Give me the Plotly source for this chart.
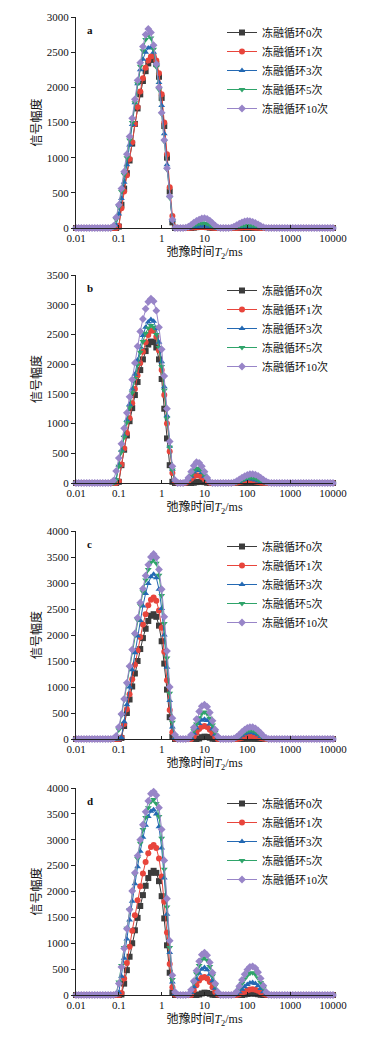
import plotly.graph_objects as go

# T2 relaxation-time grid (ms), 16 points per decade from 0.01 to 10000
T2 = [0.01, 0.0115, 0.0133, 0.0154, 0.0178, 0.0205, 0.0237, 0.0274, 0.0316, 0.0365, 0.0422, 0.0487, 0.0562, 0.0649, 0.075, 0.0866,
      0.1, 0.115, 0.133, 0.154, 0.178, 0.205, 0.237, 0.274, 0.316, 0.365, 0.422, 0.487, 0.562, 0.649, 0.75, 0.866,
      1, 1.15, 1.33, 1.54, 1.78, 2.05, 2.37, 2.74, 3.16, 3.65, 4.22, 4.87, 5.62, 6.49, 7.5, 8.66,
      10, 11.5, 13.3, 15.4, 17.8, 20.5, 23.7, 27.4, 31.6, 36.5, 42.2, 48.7, 56.2, 64.9, 75, 86.6,
      100, 115, 133, 154, 178, 205, 237, 274, 316, 365, 422, 487, 562, 649, 750, 866,
      1000, 1150, 1330, 1540, 1780, 2050, 2370, 2740, 3160, 3650, 4220, 4870, 5620, 6490, 7500, 8660,
      10000]

SEG_START = 13  # values below are signal amplitudes for T2[13] .. T2[73]; zero elsewhere

SERIES_NAMES = ["冻融循环0次", "冻融循环1次", "冻融循环3次", "冻融循环5次", "冻融循环10次"]
PANEL_LABELS = ["a", "b", "c", "d"]
Y_MAX = [3000, 3500, 4000, 4000]
X_TICKS = [0.01, 0.1, 1, 10, 100, 1000, 10000]
X_TICK_TEXT = ["0.01", "0.1", "1", "10", "100", "1000", "10000"]

# ---- panel a ----
A_0 = [0, 0, 0, 20, 330, 560, 780, 960, 1200, 1480, 1700, 1900, 2090, 2230, 2340, 2390, 2400, 2330, 2150, 1850, 1450, 1000, 520, 80, 0, 0,
       0, 0, 0, 0, 0, 5, 12, 18, 20, 18, 12, 5, 0, 0, 0, 0,
       0, 0, 0, 0, 0, 0, 0, 3, 5, 5, 4, 2, 0, 0, 0, 0, 0, 0, 0]
A_1 = [0, 0, 0, 30, 280, 520, 750, 980, 1220, 1480, 1720, 1940, 2130, 2280, 2380, 2440, 2450, 2380, 2200, 1900, 1500, 1050, 580, 170, 10, 0,
       0, 0, 0, 0, 3, 7, 11, 14, 15, 14, 11, 7, 3, 0, 0, 0,
       0, 0, 0, 0, 0, 0, 3, 6, 9, 10, 9, 7, 4, 2, 0, 0, 0, 0, 0]
A_3 = [0, 0, 40, 200, 420, 650, 900, 1180, 1470, 1780, 2050, 2250, 2400, 2500, 2560, 2570, 2500, 2330, 2070, 1740, 1340, 900, 460, 110, 0, 0,
       0, 0, 0, 0, 5, 12, 20, 27, 30, 30, 25, 18, 10, 4, 0, 0,
       0, 0, 0, 0, 0, 3, 6, 10, 13, 15, 15, 13, 10, 6, 3, 0, 0, 0, 0]
A_5 = [0, 10, 120, 300, 520, 760, 1000, 1250, 1500, 1780, 2050, 2300, 2520, 2680, 2750, 2700, 2540, 2290, 1970, 1620, 1230, 830, 430, 110, 0, 0,
       0, 0, 0, 10, 25, 40, 55, 65, 70, 68, 60, 45, 28, 12, 3, 0,
       0, 0, 0, 3, 8, 15, 24, 32, 38, 40, 39, 34, 27, 19, 11, 5, 0, 0, 0]
A_10 = [0, 30, 150, 330, 560, 800, 1050, 1300, 1560, 1830, 2100, 2350, 2580, 2750, 2830, 2780, 2600, 2330, 2000, 1640, 1250, 850, 450, 120, 0, 0,
        0, 0, 5, 20, 45, 75, 100, 120, 135, 140, 130, 105, 70, 35, 8, 0,
        0, 0, 0, 5, 20, 40, 62, 80, 95, 100, 98, 88, 72, 52, 30, 12, 3, 0, 0]

# ---- panel b ----
B_0 = [0, 0, 0, 20, 300, 560, 800, 1040, 1260, 1480, 1700, 1900, 2080, 2220, 2330, 2380, 2370, 2280, 2080, 1750, 1250, 750, 300, 20, 0, 0,
       0, 0, 0, 0, 0, 5, 15, 20, 20, 15, 5, 0, 0, 0, 0, 0,
       0, 0, 0, 0, 0, 0, 0, 0, 0, 3, 5, 3, 0, 0, 0, 0, 0, 0, 0]
B_1 = [0, 0, 0, 30, 310, 580, 840, 1090, 1340, 1580, 1810, 2020, 2210, 2370, 2490, 2560, 2560, 2460, 2230, 1900, 1480, 1000, 530, 170, 20, 0,
       0, 0, 5, 30, 70, 110, 130, 125, 100, 65, 30, 5, 0, 0, 0, 0,
       0, 0, 0, 0, 0, 5, 15, 25, 35, 40, 38, 32, 25, 15, 8, 3, 0, 0, 0]
B_3 = [0, 0, 60, 300, 550, 800, 1060, 1320, 1580, 1830, 2070, 2290, 2480, 2620, 2710, 2750, 2720, 2600, 2370, 2040, 1620, 1130, 620, 230, 40, 0,
       0, 0, 10, 55, 115, 185, 220, 210, 175, 115, 55, 10, 0, 0, 0, 0,
       0, 0, 0, 0, 0, 10, 25, 45, 60, 70, 70, 62, 50, 35, 20, 8, 0, 0, 0]
B_5 = [0, 0, 50, 280, 520, 770, 1020, 1270, 1520, 1760, 1990, 2200, 2380, 2520, 2610, 2650, 2620, 2500, 2280, 1960, 1560, 1090, 600, 220, 40, 0,
       0, 0, 10, 60, 130, 210, 250, 240, 200, 130, 60, 10, 0, 0, 0, 0,
       0, 0, 0, 0, 0, 10, 30, 50, 70, 85, 90, 88, 78, 60, 40, 20, 5, 0, 0]
B_10 = [0, 40, 200, 420, 660, 920, 1180, 1450, 1740, 2020, 2300, 2550, 2760, 2930, 3050, 3100, 3060, 2900, 2620, 2250, 1800, 1250, 700, 280, 50, 0,
        0, 0, 20, 90, 190, 290, 350, 340, 280, 190, 90, 20, 0, 0, 0, 0,
        0, 0, 0, 0, 10, 30, 60, 90, 115, 135, 148, 150, 140, 120, 90, 55, 25, 5, 0]

# ---- panel c ----
C_0 = [0, 0, 0, 0, 20, 250, 500, 760, 1010, 1260, 1500, 1730, 1940, 2120, 2270, 2370, 2400, 2350, 2180, 1880, 1450, 950, 420, 40, 0, 0,
       0, 0, 0, 0, 0, 0, 0, 10, 35, 45, 40, 25, 5, 0, 0, 0,
       0, 0, 0, 0, 0, 0, 0, 0, 3, 5, 6, 5, 3, 0, 0, 0, 0, 0, 0]
C_1 = [0, 0, 0, 0, 30, 290, 570, 860, 1150, 1430, 1700, 1960, 2200, 2400, 2570, 2680, 2720, 2660, 2470, 2140, 1680, 1130, 560, 130, 10, 0,
       0, 0, 0, 0, 0, 50, 120, 190, 235, 250, 230, 180, 110, 40, 0, 0,
       0, 0, 0, 0, 0, 0, 10, 25, 40, 52, 60, 58, 48, 35, 20, 8, 0, 0, 0]
C_3 = [0, 0, 0, 0, 30, 330, 660, 1000, 1330, 1660, 1980, 2280, 2560, 2800, 2990, 3120, 3170, 3100, 2880, 2510, 2000, 1380, 740, 230, 30, 0,
       0, 0, 0, 0, 30, 110, 210, 300, 360, 380, 355, 290, 190, 90, 20, 0,
       0, 0, 0, 0, 0, 15, 40, 70, 100, 120, 130, 125, 105, 80, 50, 20, 3, 0, 0]
C_5 = [0, 0, 20, 180, 450, 750, 1060, 1380, 1700, 2000, 2290, 2570, 2830, 3060, 3260, 3400, 3450, 3380, 3150, 2760, 2220, 1560, 880, 320, 50, 0,
       0, 0, 0, 0, 50, 160, 290, 410, 490, 520, 490, 400, 270, 130, 30, 0,
       0, 0, 0, 0, 0, 25, 60, 100, 135, 160, 170, 165, 145, 110, 70, 30, 5, 0, 0]
C_10 = [0, 10, 60, 230, 480, 770, 1080, 1400, 1720, 2030, 2330, 2620, 2890, 3140, 3350, 3500, 3560, 3490, 3260, 2880, 2350, 1690, 1000, 400, 80, 0,
        0, 0, 0, 10, 80, 220, 380, 530, 630, 660, 620, 510, 350, 180, 50, 0,
        0, 0, 0, 0, 10, 40, 85, 135, 180, 215, 230, 228, 205, 165, 115, 60, 20, 0, 0]

# ---- panel d ----
D_0 = [0, 0, 0, 0, 10, 220, 480, 740, 1000, 1250, 1490, 1720, 1930, 2110, 2260, 2360, 2400, 2360, 2200, 1910, 1480, 960, 430, 50, 0, 0,
       0, 0, 0, 0, 0, 0, 0, 10, 30, 45, 40, 25, 5, 0, 0, 0,
       0, 0, 0, 0, 0, 0, 0, 0, 10, 20, 30, 30, 25, 15, 5, 0, 0, 0, 0]
D_1 = [0, 0, 0, 0, 40, 320, 620, 930, 1240, 1540, 1830, 2100, 2350, 2570, 2740, 2860, 2900, 2840, 2640, 2290, 1800, 1210, 600, 150, 10, 0,
       0, 0, 0, 0, 0, 90, 190, 280, 335, 350, 320, 250, 150, 60, 10, 0,
       0, 0, 0, 0, 0, 0, 15, 40, 65, 90, 105, 110, 100, 80, 55, 25, 5, 0, 0]
D_3 = [0, 0, 0, 50, 360, 710, 1080, 1450, 1810, 2150, 2480, 2780, 3050, 3280, 3450, 3550, 3580, 3500, 3250, 2840, 2260, 1560, 820, 250, 30, 0,
       0, 0, 0, 0, 50, 160, 300, 420, 500, 530, 490, 400, 270, 130, 30, 0,
       0, 0, 0, 0, 0, 20, 60, 110, 160, 205, 232, 240, 220, 180, 125, 65, 15, 0, 0]
D_5 = [0, 0, 30, 250, 570, 920, 1290, 1650, 2000, 2330, 2640, 2930, 3200, 3430, 3620, 3740, 3780, 3700, 3450, 3030, 2430, 1700, 920, 300, 40, 0,
       0, 0, 0, 0, 80, 230, 410, 570, 680, 720, 670, 550, 370, 180, 40, 0,
       0, 0, 0, 0, 0, 50, 130, 220, 310, 380, 420, 430, 400, 330, 240, 130, 40, 0, 0]
D_10 = [0, 0, 20, 220, 540, 900, 1280, 1650, 2010, 2360, 2690, 3000, 3290, 3540, 3750, 3890, 3930, 3860, 3620, 3200, 2600, 1860, 1050, 380, 60, 0,
        0, 0, 0, 10, 100, 270, 470, 650, 780, 820, 770, 630, 430, 220, 60, 0,
        0, 0, 0, 0, 10, 70, 170, 290, 400, 490, 545, 555, 520, 440, 320, 180, 60, 5, 0]

PANELS = [[A_0, A_1, A_3, A_5, A_10],
          [B_0, B_1, B_3, B_5, B_10],
          [C_0, C_1, C_3, C_5, C_10],
          [D_0, D_1, D_3, D_5, D_10]]

COLORS = ["#3c3c3c", "#e8453c", "#2469b3", "#2fa46a", "#9885c8"]
SYMBOLS = ["square", "circle", "triangle-up", "triangle-down", "diamond"]

FONT = "Liberation Serif, Times New Roman, Noto Sans CJK SC, serif"
OFF = 8  # default page body margin
W, H = 380 - OFF, 1038 - OFF
X_LEFT, X_RIGHT = 76 - OFF, 333 - OFF
PANEL_PX = [(17, 228), (275, 483), (531, 739), (788, 995)]  # (top, bottom) in page px


def full(seg):
    assert len(seg) == 61
    return [0] * SEG_START + list(seg) + [0] * (len(T2) - SEG_START - len(seg))


fig = go.Figure()
for p, series in enumerate(PANELS):
    k = p + 1
    sfx = "" if k == 1 else str(k)
    for s, vals in enumerate(series):
        fig.add_trace(go.Scatter(
            x=T2, y=full(vals), mode="lines+markers", name=SERIES_NAMES[s],
            line=dict(color=COLORS[s], width=1),
            marker=dict(color=COLORS[s], symbol=SYMBOLS[s], size=6, line=dict(width=0)),
            xaxis="x" + sfx, yaxis="y" + sfx, legend="legend" + sfx,
            cliponaxis=False,
        ))
    top, bot = PANEL_PX[p]
    top -= OFF
    bot -= OFF
    dom_y = [1 - bot / H, 1 - top / H]
    fig.layout["xaxis" + sfx] = dict(
        type="log", range=[-2, 4], domain=[X_LEFT / W, X_RIGHT / W], anchor="y" + sfx,
        tickvals=X_TICKS, ticktext=X_TICK_TEXT, ticks="inside", ticklen=3, tickcolor="#222",
        showline=True, linecolor="#222", linewidth=1, showgrid=False, zeroline=False,
        automargin=False,
        tickfont=dict(family=FONT, size=11, color="#111"),
        title=dict(text="弛豫时间<i>T</i><sub>2</sub>/ms", font=dict(family=FONT, size=12, color="#111"), standoff=4),
    )
    fig.layout["yaxis" + sfx] = dict(
        range=[0, Y_MAX[p]], dtick=500, domain=dom_y, anchor="x" + sfx,
        ticks="outside", ticklen=4, tickcolor="#222",
        showline=True, linecolor="#222", linewidth=1, showgrid=False, zeroline=False,
        automargin=False,
        tickfont=dict(family=FONT, size=11, color="#111"),
        title=dict(text="信号幅度", font=dict(family=FONT, size=12, color="#111"), standoff=2),
    )
    fig.layout["legend" + sfx] = dict(
        x=(222 - OFF) / W, y=1 - (top + 1) / H, xanchor="left", yanchor="top",
        bgcolor="rgba(0,0,0,0)", font=dict(family=FONT, size=11, color="#111"),
        itemwidth=30, tracegroupgap=0,
    )
    fig.add_annotation(
        text="<b>%s</b>" % PANEL_LABELS[p], xref="x%s domain" % sfx, yref="y%s domain" % sfx,
        x=0.035, y=0.975, xanchor="left", yanchor="top", showarrow=False,
        font=dict(family=FONT, size=11, color="#111"),
    )

fig.update_layout(
    width=W, height=H, autosize=False,
    margin=dict(l=0, r=0, t=0, b=0, autoexpand=False),
    paper_bgcolor="white", plot_bgcolor="white",
    showlegend=True,
)

fig.write_html("out.html")
